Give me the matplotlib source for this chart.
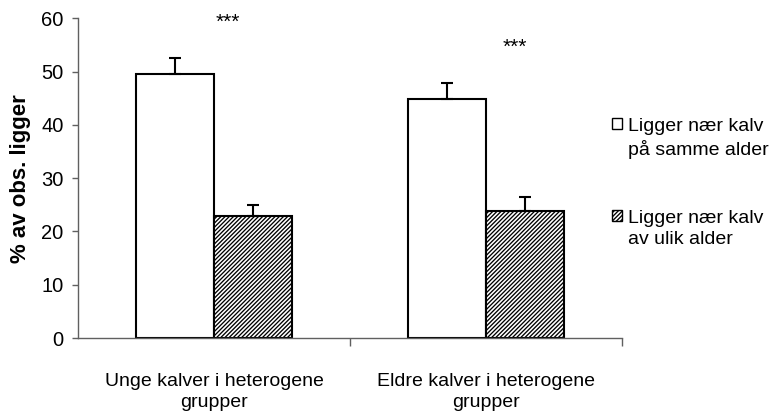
import matplotlib
matplotlib.use("Agg")
import matplotlib.pyplot as plt
import numpy as np

plt.rcParams['font.family'] = ['Liberation Sans', 'DejaVu Sans']
plt.rcParams['hatch.linewidth'] = 0.95

# ---- data ----
categories = ["Unge kalver i heterogene\ngrupper", "Eldre kalver i heterogene\ngrupper"]
series_labels = ["Ligger nær kalv\npå samme alder", "Ligger nær kalv\nav ulik alder"]
same_age = [49.6, 44.9]
same_age_err = [2.9, 3.0]
diff_age = [23.0, 23.8]
diff_age_err = [1.9, 2.7]
sig_labels = ["***", "***"]
sig_heights = [59.2, 54.5]
yticks = [0, 10, 20, 30, 40, 50, 60]
ylabel = "% av obs. ligger"

FS = 14

fig = plt.figure(figsize=(7.73, 4.15), dpi=100)
ax = fig.add_axes([78 / 773, 77 / 415, (622 - 78) / 773, (338 - 18.5) / 415])

x = np.arange(len(categories))
w = 0.287
b1 = ax.bar(x - w / 2, same_age, w, color='white', edgecolor='black', linewidth=1.5,
            label=series_labels[0], zorder=2)
b2 = ax.bar(x + w / 2, diff_age, w, color='white', edgecolor='black', linewidth=1.5,
            hatch='////////', label=series_labels[1], zorder=2)
ax.errorbar(x - w / 2, same_age, yerr=[np.zeros(len(x)), same_age_err], fmt='none',
            ecolor='black', elinewidth=1.5, capsize=4.6, capthick=1.5, zorder=3)
ax.errorbar(x + w / 2, diff_age, yerr=[np.zeros(len(x)), diff_age_err], fmt='none',
            ecolor='black', elinewidth=1.5, capsize=4.6, capthick=1.5, zorder=3)

star_dx = [0.051, 0.105]
for i, (s, h) in enumerate(zip(sig_labels, sig_heights)):
    ax.text(x[i] + star_dx[i], h, s, ha='center', va='center', fontsize=FS + 1)

ax.set_xlim(-0.5, 1.5)
ax.set_ylim(0, 60)
ax.set_yticks(yticks)
ax.set_yticklabels([str(v) for v in yticks], fontsize=14.5)

ax.set_xticks([0.5, 1.5])
ax.set_xticklabels(['', ''])
ax.set_xticks(x, minor=True)
ax.set_xticklabels(categories, minor=True, fontsize=FS)
for t in ax.get_xticklabels(minor=True):
    t.set_linespacing(1.3)
ax.tick_params(axis='x', which='major', direction='out', length=6, width=1, color='#606060')
ax.tick_params(axis='x', which='minor', length=0, pad=25)
ax.tick_params(axis='y', direction='out', length=4.5, width=1, color='#606060', pad=6)

for sp in ['top', 'right']:
    ax.spines[sp].set_visible(False)
for sp in ['left', 'bottom']:
    ax.spines[sp].set_color('#606060')
    ax.spines[sp].set_linewidth(1)

ax.set_ylabel(ylabel, fontsize=16, fontweight='bold', labelpad=7)

leg = ax.legend(loc='upper left', bbox_to_anchor=(612 / 773, 1 - 118 / 415),
                bbox_transform=fig.transFigure, frameon=False, fontsize=FS,
                handlelength=0.5, handleheight=0.5, handletextpad=0.3,
                labelspacing=2.6, borderpad=0, borderaxespad=0)
for t in leg.get_texts():
    t.set_linespacing(1.35)
for h in leg.legend_handles:
    h.set_linewidth(1.0)
try:
    for col in leg._legend_handle_box.get_children():
        for item in col.get_children():
            item.align = 'top'
except Exception:
    pass

fig.savefig('out.png', dpi=100)
